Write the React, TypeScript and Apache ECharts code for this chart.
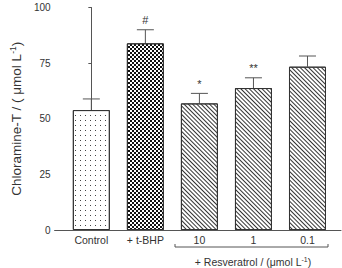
import React, { useEffect, useRef } from "react";
import * as echarts from "echarts";

const categories = ["Control", "+ t-BHP", "10", "1", "0.1"];
const means = [53.9, 83.9, 56.9, 63.8, 73.4];
const errors = [5.0, 6.1, 4.5, 4.6, 4.8];
const marks = ["", "#", "*", "**", ""];
const yTicks = [0, 25, 50, 75, 100];

const FONT = "Liberation Sans, Arial, sans-serif";

export default function App() {
  const ref = useRef<HTMLDivElement>(null);
  useEffect(() => {
    const chart = echarts.init(ref.current!, null, { renderer: "svg" });
    const barBase = {
      type: "bar" as const,
      barWidth: 37,
      barGap: "-100%",
      silent: true,
    };
    chart.setOption({
      animation: false,
      grid: { left: 47, right: 1, top: 7.5, bottom: 38 },
      xAxis: {
        type: "value",
        min: -0.68,
        max: 4.62,
        splitLine: { show: false },
        axisLine: { show: true, lineStyle: { color: "#555", width: 1 } },
        axisTick: { show: false },
        axisLabel: {
          customValues: [0, 1, 2, 3, 4],
          formatter: (v: number) => categories[Math.round(v)] ?? "",
          color: "#333",
          fontFamily: FONT,
          fontSize: 10.5,
          margin: 4,
        },
      },
      yAxis: {
        type: "value",
        min: 0,
        max: 100,
        interval: 25,
        splitLine: { show: false },
        axisLine: { show: true, lineStyle: { color: "#555", width: 1 } },
        axisTick: { show: true, inside: false, length: 3, lineStyle: { color: "#555" } },
        axisLabel: {
          color: "#333",
          fontFamily: FONT,
          fontSize: 10,
          margin: 4,
          formatter: (v: number) => (yTicks.includes(v) ? String(v) : ""),
        },
        name: "{a|Chloramine-T / ( μmol L}{s|-1}{a|)}",
        nameLocation: "middle",
        nameGap: 29,
        nameTextStyle: {
          rich: {
            a: { fontFamily: FONT, fontSize: 13.5, color: "#333" },
            s: { fontFamily: FONT, fontSize: 8.5, color: "#333", padding: [0, 0, 7, 0] },
          },
        },
      },
      series: [
        {
          ...barBase,
          data: [[0, means[0]]],
          itemStyle: {
            color: "#fff",
            borderColor: "#333",
            borderWidth: 1,
            decal: {
              symbol: "rect",
              symbolSize: 1,
              color: "#444",
              backgroundColor: "#fff",
              dashArrayX: [1, 3.3],
              dashArrayY: [1, 3.7],
            },
          },
        },
        {
          ...barBase,
          data: [[1, means[1]]],
          itemStyle: {
            color: "#fff",
            borderColor: "#333",
            borderWidth: 1,
            decal: {
              symbol: "rect",
              symbolSize: 1,
              color: "#111",
              backgroundColor: "#fff",
              dashArrayX: [[1.5, 1.5], [0, 1.5, 1.5, 0]],
              dashArrayY: [1.5, 0],
            },
          },
        },
        {
          ...barBase,
          data: [
            [2, means[2]],
            [3, means[3]],
            [4, means[4]],
          ],
          itemStyle: {
            color: "#fff",
            borderColor: "#333",
            borderWidth: 1,
            decal: {
              symbol: "rect",
              symbolSize: 1,
              color: "#333",
              backgroundColor: "#fff",
              dashArrayX: [1, 0],
              dashArrayY: [1, 1.2],
              rotation: Math.PI / 4,
            },
          },
        },
        {
          type: "custom",
          silent: true,
          data: means.map((m, i) => [i, m, errors[i]]),
          renderItem: (params: any, api: any) => {
            const x = api.value(0);
            const m = api.value(1);
            const e = api.value(2);
            const base = api.coord([x, m]);
            const top = api.coord([x, m + e]);
            const mark = marks[params.dataIndex];
            const children: any[] = [
              {
                type: "line",
                shape: { x1: base[0], y1: base[1], x2: top[0], y2: top[1] },
                style: { stroke: "#555", lineWidth: 1 },
              },
              {
                type: "line",
                shape: { x1: top[0] - 8.5, y1: top[1], x2: top[0] + 8.5, y2: top[1] },
                style: { stroke: "#555", lineWidth: 1 },
              },
            ];
            if (mark) {
              children.push({
                type: "text",
                x: top[0],
                y: top[1] - 4,
                style: {
                  text: mark,
                  fill: "#333",
                  font: `11px ${FONT}`,
                  textAlign: "center",
                  textVerticalAlign: "bottom",
                },
              });
            }
            return { type: "group", children };
          },
        },
      ],
      graphic: [
        {
          type: "polyline",
          shape: { points: [[175, 244], [175, 247], [328, 247], [328, 244]] },
          style: { stroke: "#555", lineWidth: 1, fill: null },
        },
        {
          type: "text",
          x: 253,
          y: 262,
          style: {
            text: "{a|+ Resveratrol / (μmol L}{s|-1}{a|)}",
            textAlign: "center",
            textVerticalAlign: "middle",
            rich: {
              a: { fontFamily: FONT, fontSize: 10.5, fill: "#333" },
              s: { fontFamily: FONT, fontSize: 7, fill: "#333", padding: [0, 0, 6, 0] },
            },
          },
        },
      ],
    });
    return () => chart.dispose();
  }, []);
  return <div ref={ref} style={{ width: 342, height: 268, position: "absolute", left: 0, top: 0 }} />;
}
